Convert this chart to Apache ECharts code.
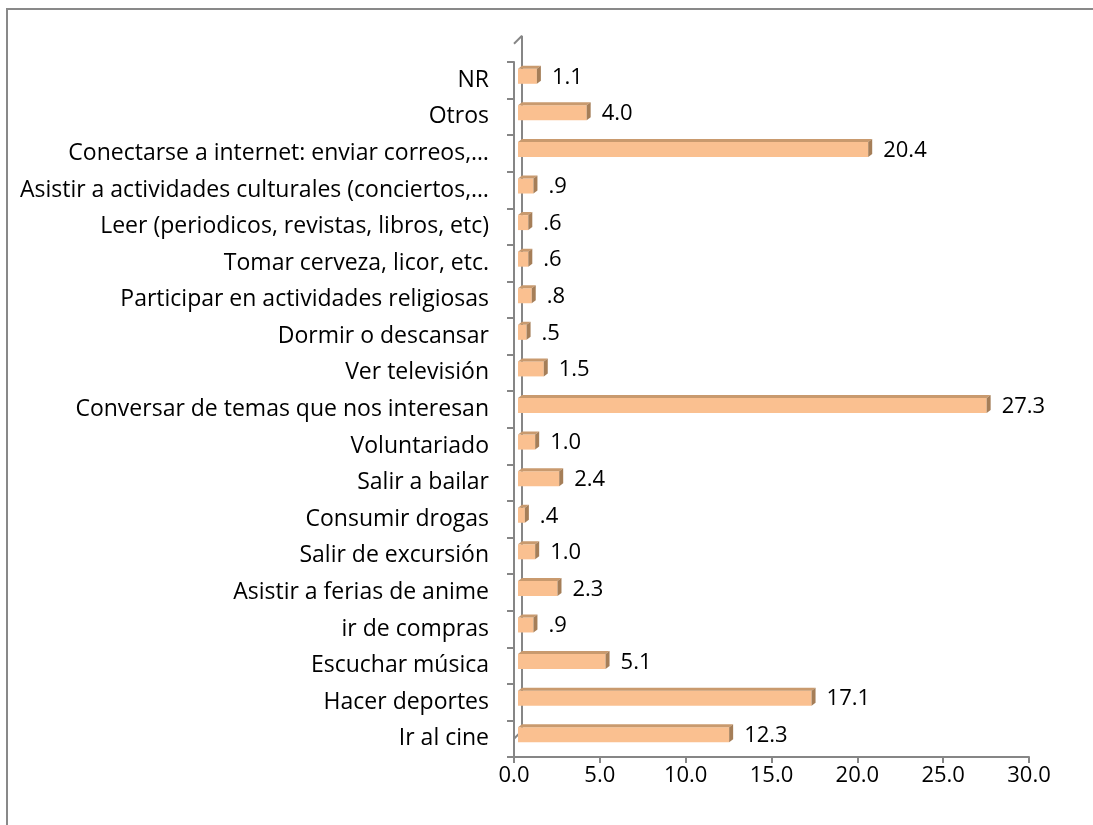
<!DOCTYPE html>
<html>
<head>
<meta charset="utf-8">
<title>Actividades</title>
<script type="text/javascript" src="https://cdn.jsdelivr.net/npm/echarts@6/dist/echarts.min.js"></script>
<style>
  html, body { margin: 0; padding: 0; background: #fff; }
  #chart { width: 1093px; height: 825px; }
</style>
</head>
<body>
<div id="chart"></div>
<script type="text/javascript">
    // categorias de abajo hacia arriba
    var categories = [
        'Ir al cine', 'Hacer deportes', 'Escuchar música', 'ir de compras',
        'Asistir a ferias de anime', 'Salir de excursión', 'Consumir drogas',
        'Salir a bailar', 'Voluntariado', 'Conversar de temas que nos interesan',
        'Ver televisión', 'Dormir o descansar', 'Participar en actividades religiosas',
        'Tomar cerveza, licor, etc.', 'Leer (periodicos, revistas, libros, etc)',
        'Asistir a actividades culturales (conciertos,…',
        'Conectarse a internet: enviar correos,…', 'Otros', 'NR'
    ];
    var values = [12.3, 17.1, 5.1, 0.9, 2.3, 1.0, 0.4, 2.4, 1.0, 27.3,
                  1.5, 0.5, 0.8, 0.6, 0.6, 0.9, 20.4, 4.0, 1.1];
    var xTicks = [0, 5, 10, 15, 20, 25, 30];

    var FONT = '"Open Sans", "Noto Sans", sans-serif';
    var FS = 22;

    function fmt(v) {
        var s = v.toFixed(1);
        return v < 1 ? s.replace(/^0/, '') : s; // excel: .9 en vez de 0.9
    }

    function renderBar(params, api) {
        var v = api.value(0), c = api.value(1);
        var p0 = api.coord([0, c]), p1 = api.coord([v, c]);
        var h = 15, dx = 4, dy = -4, d = 4, dz = 3;
        var x0 = p0[0] + dx, x1 = p1[0] + dx;
        var yc = p0[1] + dy, yt = yc - h / 2, yb = yc + h / 2;
        return {
            type: 'group',
            children: [
                { type: 'rect', shape: { x: x0, y: yt, width: x1 - x0, height: h }, style: { fill: '#FAC090' } },
                { type: 'polygon', shape: { points: [[x0, yt], [x1, yt], [x1 + d, yt - dz], [x0 + d, yt - dz]] }, style: { fill: '#C99A6E' } },
                { type: 'polygon', shape: { points: [[x1, yt], [x1 + d, yt - dz], [x1 + d, yb - dz], [x1, yb]] }, style: { fill: '#A57E58' } },
                { type: 'text', x: x1 + d + 11, y: yc + 1,
                  style: { text: fmt(v), fill: '#000', font: FS + 'px ' + FONT, verticalAlign: 'middle', align: 'left' } }
            ]
        };
    }

    var option = {
        backgroundColor: '#fff',
        animation: false,
        grid: { left: 514, right: 64, top: 62, bottom: 68 },
        xAxis: {
            type: 'value',
            min: 0, max: 30, interval: 5,
            axisLine: { show: true, lineStyle: { color: '#868686', width: 2 } },
            axisTick: { show: true, length: 6, lineStyle: { color: '#868686', width: 2 } },
            axisLabel: { color: '#000', fontSize: FS, fontFamily: FONT, margin: 8,
                formatter: function (v) { return v.toFixed(1); } },
            splitLine: { show: false }
        },
        yAxis: {
            type: 'category',
            data: categories,
            axisLine: { show: true, lineStyle: { color: '#868686', width: 2 } },
            axisTick: { show: true, length: 7, lineStyle: { color: '#868686', width: 2 } },
            axisLabel: { color: '#000', fontSize: 23, fontFamily: FONT, margin: 25, padding: [0, 0, 6, 0] }
        },
        series: [{
            type: 'custom',
            renderItem: renderBar,
            encode: { x: 0, y: 1 },
            data: values.map(function (v, i) { return [v, i]; })
        }]
    };

    var chart = echarts.init(document.getElementById('chart'));
    chart.setOption(option);

    // paredes 3D y borde exterior
    var pTop = chart.convertToPixel({ gridIndex: 0 }, [0, categories.length - 0.5]);
    var pBot = chart.convertToPixel({ gridIndex: 0 }, [0, -0.5]);
    var wall = { stroke: '#868686', lineWidth: 2 };
    chart.setOption({
        graphic: [
            { type: 'rect', shape: { x: 7, y: 9, width: 2000, height: 2000 }, style: { fill: 'none', stroke: '#898989', lineWidth: 2 } },
            { type: 'line', shape: { x1: pTop[0], y1: pTop[1], x2: pTop[0] + 8, y2: pTop[1] - 8 }, style: wall },
            { type: 'line', shape: { x1: pTop[0] + 8, y1: pTop[1] - 8, x2: pBot[0] + 8, y2: pBot[1] - 8 }, style: wall },
            { type: 'line', shape: { x1: pBot[0], y1: pBot[1], x2: pBot[0] + 8, y2: pBot[1] - 8 }, style: wall }
        ]
    });
</script>
</body>
</html>
